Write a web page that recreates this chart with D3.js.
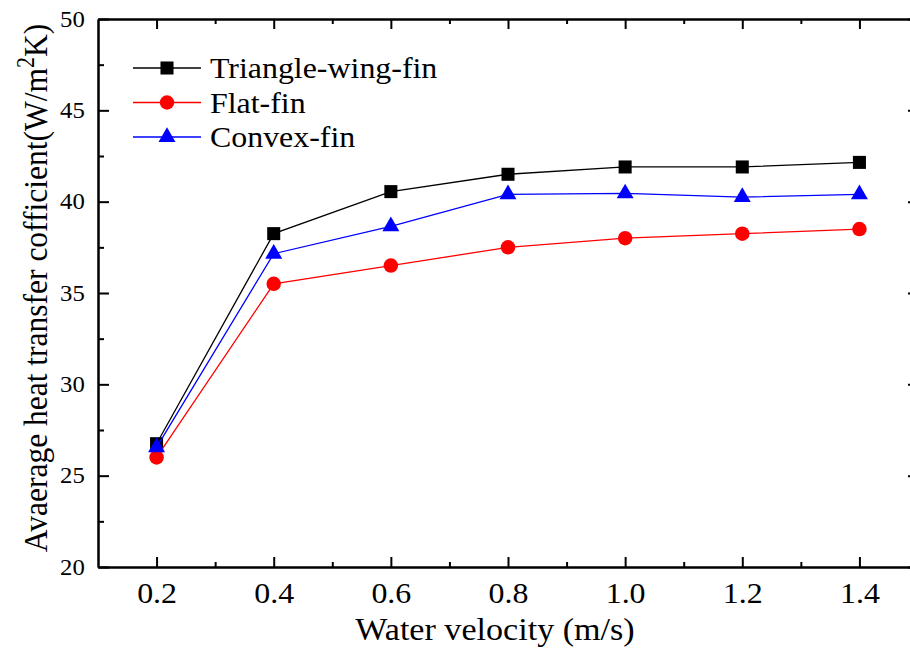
<!DOCTYPE html>
<html>
<head>
<meta charset="utf-8">
<script src="https://cdn.jsdelivr.net/npm/d3@7"></script>
<style>
	body { margin: 0; background: #fff; }
	text { font-family: "Liberation Serif", "DejaVu Serif", serif; fill: #000; }
</style>
</head>
<body>
<script>

var velocity = [0.2, 0.4, 0.6, 0.8, 1.0, 1.2, 1.4]
var triangleWing = [26.75, 38.25, 40.55, 41.5, 41.9, 41.9, 42.15]
var flatFin = [26.0, 35.5, 36.5, 37.5, 38.0, 38.25, 38.5]
var convexFin = [26.55, 37.15, 38.65, 40.4, 40.45, 40.25, 40.4]

var xTicks = [0.2, 0.4, 0.6, 0.8, 1.0, 1.2, 1.4]
var xMinor = [0.3, 0.5, 0.7, 0.9, 1.1, 1.3]
var yTicks = [20, 25, 30, 35, 40, 45, 50]
var yMinor = [22.5, 27.5, 32.5, 37.5, 42.5, 47.5]

var seriesNames = ['Triangle-wing-fin', 'Flat-fin', 'Convex-fin']

var series = [
	{ name : seriesNames[0], values : triangleWing, color : '#000000', symbol : d3.symbolSquare, size : 170 },
	{ name : seriesNames[1], values : flatFin, color : '#ff0000', symbol : d3.symbolCircle, size : 165 },
	{ name : seriesNames[2], values : convexFin, color : '#0000ff', symbol : d3.symbolTriangle, size : 125 }
]

var width = 910
var height = 655
var margin = { top : 19, right : -8, bottom : 88, left : 98 }
var plotW = width - margin.left - margin.right
var plotH = height - margin.top - margin.bottom
var stretch = 'scale(1.1,1)'

var svg = d3.select('body')
	.append('svg')
	.attr('width', width)
	.attr('height', height)

var graph = svg
	.append('g')
	.attr('transform', `translate(${margin.left}, ${margin.top})`)

var xScale = d3.scaleLinear()
	.domain([0.1, 1.5])
	.range([0, plotW])

var yScale = d3.scaleLinear()
	.domain([20, 50])
	.range([plotH, 0])

// axes, ticks pointing inward
function styleAxis(g) {
	g.select('.domain').attr('stroke-width', 2)
	g.selectAll('.tick line').attr('stroke-width', 2)
}

graph.append('g')
	.attr('transform', `translate(0, ${plotH})`)
	.call(d3.axisBottom(xScale).tickValues(xTicks).tickSize(-10).tickPadding(15).tickSizeOuter(0).tickFormat(d3.format('.1f')))
	.call(styleAxis)
	.call(g => g.selectAll('text').attr('font-size', 29).attr('transform', stretch))

graph.append('g')
	.attr('transform', `translate(0, ${plotH})`)
	.call(d3.axisBottom(xScale).tickValues(xMinor).tickSize(-5).tickSizeOuter(0).tickFormat(''))
	.call(styleAxis)

graph.append('g')
	.call(d3.axisTop(xScale).tickValues(xTicks).tickSize(-10).tickSizeOuter(0).tickFormat(''))
	.call(styleAxis)

graph.append('g')
	.call(d3.axisTop(xScale).tickValues(xMinor).tickSize(-5).tickSizeOuter(0).tickFormat(''))
	.call(styleAxis)

graph.append('g')
	.call(d3.axisLeft(yScale).tickValues(yTicks).tickSize(-11).tickPadding(12).tickSizeOuter(0))
	.call(styleAxis)
	.call(g => g.selectAll('text').attr('font-size', 22.5).attr('transform', stretch))

graph.append('g')
	.call(d3.axisLeft(yScale).tickValues(yMinor).tickSize(-6).tickSizeOuter(0).tickFormat(''))
	.call(styleAxis)

graph.append('g')
	.attr('transform', `translate(${plotW}, 0)`)
	.call(d3.axisRight(yScale).tickValues(yTicks).tickSize(-10).tickSizeOuter(0).tickFormat(''))
	.call(styleAxis)

graph.append('g')
	.attr('transform', `translate(${plotW}, 0)`)
	.call(d3.axisRight(yScale).tickValues(yMinor).tickSize(-5).tickSizeOuter(0).tickFormat(''))
	.call(styleAxis)

// lines and markers
var line = d3.line()
	.x( (d, i) => xScale(velocity[i]) )
	.y( d => yScale(d) )

series.forEach(s => {
	graph.append('path')
		.datum(s.values)
		.attr('fill', 'none')
		.attr('stroke', s.color)
		.attr('stroke-width', 1.3)
		.attr('d', line)

	graph.selectAll(null)
		.data(s.values)
		.enter()
		.append('path')
			.attr('d', d3.symbol().type(s.symbol).size(s.size))
			.attr('fill', s.color)
			.attr('transform', (d, i) => `translate(${xScale(velocity[i])}, ${yScale(d)})`)
})

// legend
var legend = svg.append('g')
	.attr('transform', 'translate(133, 68)')

series.forEach((s, i) => {
	var row = legend.append('g')
		.attr('transform', `translate(0, ${i * 34.5})`)
	row.append('line')
		.attr('x1', 0).attr('x2', 68)
		.attr('stroke', s.color)
		.attr('stroke-width', 1.3)
	row.append('path')
		.attr('d', d3.symbol().type(s.symbol).size(s.size))
		.attr('fill', s.color)
		.attr('transform', 'translate(34, 0)')
	row.append('g')
		.attr('transform', `translate(77, 10) ${stretch}`)
		.append('text')
			.attr('font-size', 29)
			.text(s.name)
})

// axis titles
svg.append('g')
	.attr('transform', `translate(495, 640) ${stretch}`)
	.append('text')
		.attr('text-anchor', 'middle')
		.attr('font-size', 31)
		.text('Water velocity (m/s)')

var yTitle = svg.append('g')
	.attr('transform', `translate(47, 288) ${stretch} rotate(-90)`)
	.append('text')
		.attr('text-anchor', 'middle')
		.attr('font-size', 31.5)

yTitle.append('tspan').text('Avaerage heat transfer cofficient(W/m')
yTitle.append('tspan').attr('font-size', 22).attr('dy', -12).text('2')
yTitle.append('tspan').attr('dy', 12).text('K)')

</script>
</body>
</html>
